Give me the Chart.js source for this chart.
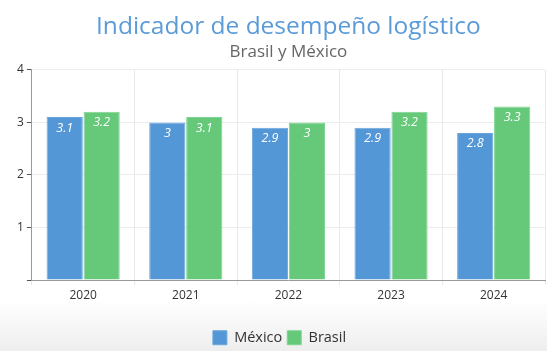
<!DOCTYPE html>
<html lang="es">
<head>
    <meta charset="UTF-8">
    <title>Indicador de desempeño logístico</title>
    <script src="https://cdn.jsdelivr.net/npm/chart.js"></script>
    <style>
        html, body { margin: 0; padding: 0; background: #fff; }
        .wrap {
            position: relative; width: 547px; height: 351px;
            background: linear-gradient(to bottom, #fff 0px, #fff 300px, #eeeeee 351px);
        }
    </style>
</head>
<body>
    <div class="wrap">
        <canvas id="lpiChart" width="547" height="351"></canvas>
    </div>

    <script>
        // Datos
        const years = ['2020', '2021', '2022', '2023', '2024'];
        const mexico = [3.1, 3.0, 2.9, 2.9, 2.8];
        const brasil = [3.2, 3.1, 3.0, 3.2, 3.3];
        const yTicks = [0, 1, 2, 3, 4];

        const titleText = 'Indicador de desempeño logístico';
        const subtitleText = 'Brasil y México';

        // etiquetas dentro de las barras
        const barLabels = {
            id: 'barLabels',
            afterDatasetsDraw(chart) {
                const ctx = chart.ctx;
                ctx.save();
                ctx.font = 'italic 12.5px "Open Sans"';
                ctx.fillStyle = '#fff';
                ctx.textAlign = 'center';
                ctx.textBaseline = 'middle';
                chart.data.datasets.forEach((ds, i) => {
                    chart.getDatasetMeta(i).data.forEach((bar, j) => {
                        ctx.fillText(String(ds.data[j]), bar.x, bar.y + 11);
                    });
                });
                ctx.restore();
            }
        };

        // centrar titulo y subtitulo sobre el area del grafico
        const centerTitles = {
            id: 'centerTitles',
            afterLayout(chart) {
                const area = chart.chartArea;
                chart.boxes.forEach(b => {
                    if (b.options && (b.options.text === titleText || b.options.text === subtitleText)) {
                        b.left = area.left;
                        b.right = area.right;
                        b.width = area.right - area.left;
                    }
                });
            }
        };

        new Chart(document.getElementById('lpiChart'), {
            type: 'bar',
            data: {
                labels: years,
                datasets: [
                    { label: 'México', data: mexico, backgroundColor: '#5497d6', borderColor: '#6aa6dd', borderWidth: 1 },
                    { label: 'Brasil', data: brasil, backgroundColor: '#66c97a', borderColor: '#7fd490', borderWidth: 1 }
                ]
            },
            options: {
                responsive: false,
                animation: false,
                layout: { padding: { left: 14, right: 2, bottom: -4 } },
                datasets: { bar: { categoryPercentage: 0.72, barPercentage: 0.98 } },
                scales: {
                    x: {
                        grid: { color: '#e8e8e8', tickLength: 5, offset: true },
                        border: { color: '#999' },
                        ticks: { color: '#333', font: { family: 'Open Sans', size: 12 }, padding: 3 },
                        afterFit: scale => { scale.height += 20; }
                    },
                    y: {
                        min: 0, max: 4,
                        afterBuildTicks: axis => { axis.ticks = yTicks.map(v => ({ value: v })); },
                        grid: { color: '#ececec', tickLength: 5, tickColor: '#555' },
                        border: { color: '#999' },
                        ticks: {
                            color: '#333', font: { family: 'Open Sans', size: 12 }, padding: 3,
                            callback: v => v === 0 ? '' : v
                        }
                    }
                },
                plugins: {
                    title: {
                        display: true,
                        text: titleText,
                        color: '#5b9bd8',
                        font: { family: 'Open Sans', size: 24.5, weight: 'normal' },
                        padding: { top: 12, bottom: 1 }
                    },
                    subtitle: {
                        display: true,
                        text: subtitleText,
                        color: '#666',
                        font: { family: 'Open Sans', size: 17 },
                        padding: { top: 0, bottom: 7 }
                    },
                    legend: {
                        position: 'bottom',
                        labels: {
                            color: '#333',
                            font: { family: 'Open Sans', size: 14.5 },
                            boxWidth: 14, boxHeight: 14, padding: 5
                        }
                    },
                    tooltip: { enabled: false }
                }
            },
            plugins: [barLabels, centerTitles]
        });
    </script>
</body>
</html>
